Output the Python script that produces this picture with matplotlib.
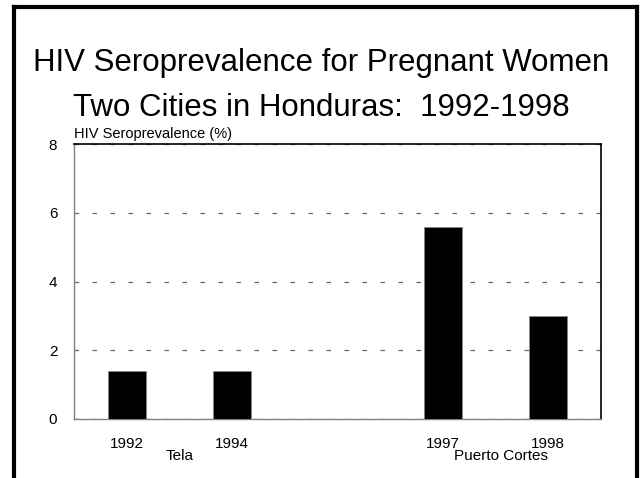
import matplotlib
matplotlib.use("Agg")
import matplotlib.pyplot as plt
from matplotlib.lines import Line2D
import matplotlib.transforms as mtransforms

plt.rcParams["font.family"] = ["Liberation Sans", "DejaVu Sans"]

# data
years = ["1992", "1994", "1997", "1998"]
slots = [0, 1, 3, 4]          # slot 2 is left empty between the two cities
prevalence = [1.4, 1.4, 5.6, 3.0]
cities = ["Tela", "Puerto Cortes"]
city_slots = [0.5, 3.55]
yticks = [0, 2, 4, 6, 8]
title_lines = ["HIV Seroprevalence for Pregnant Women",
               "Two Cities in Honduras:  1992-1998"]

fig = plt.figure(figsize=(6.42, 4.78), dpi=100)

# slide frame, thick black, cut off at the bottom
fig.add_artist(Line2D([13.5 / 642, 13.5 / 642], [0, 1 - 7 / 478], color="k", lw=3.0))
fig.add_artist(Line2D([13.5 / 642, 637 / 642], [1 - 7 / 478, 1 - 7 / 478], color="k", lw=3.0))
fig.add_artist(Line2D([637 / 642, 637 / 642], [1 - 7 / 478, 0], color="k", lw=3.0))

fig.text(0.5, 1 - 71 / 478, title_lines[0], ha="center", va="baseline", fontsize=22.5)
fig.text(0.5, 1 - 116 / 478, title_lines[1], ha="center", va="baseline", fontsize=22.5)

ax = fig.add_axes([74 / 642, 1 - 419 / 478, 527 / 642, 275 / 478])
ax.bar(slots, prevalence, width=0.36, color="black", edgecolor="#888888",
       linewidth=0.6, zorder=3)

ax.set_xlim(-0.5, 4.5)
ax.set_ylim(0, 8)
ax.set_yticks(yticks)
ax.set_xticks(slots)
ax.set_xticklabels(years)
ax.tick_params(length=0, labelsize=11, colors="black")
ax.tick_params(axis="y", pad=12)
ax.tick_params(axis="x", pad=13)
ax.yaxis.grid(True, color="#666666", lw=0.9, linestyle=(0, (3.6, 10.8)), zorder=1)
ax.set_axisbelow(True)

for side in ["left", "bottom"]:
    ax.spines[side].set_color("#808080")
    ax.spines[side].set_linewidth(1.0)
for side in ["top", "right"]:
    ax.spines[side].set_color("black")
    ax.spines[side].set_linewidth(1.2)

ax.text(0, 1.012, "HIV Seroprevalence (%)", transform=ax.transAxes,
        ha="left", va="bottom", fontsize=10.5)

trans = mtransforms.blended_transform_factory(ax.transData, ax.transAxes)
for name, xs in zip(cities, city_slots):
    ax.text(xs, -0.135, name, transform=trans, ha="center", va="center", fontsize=11)

fig.savefig("out.png", dpi=100)
